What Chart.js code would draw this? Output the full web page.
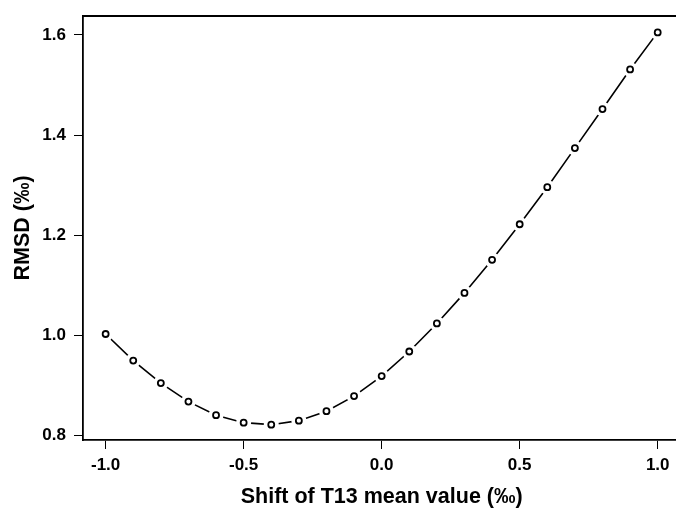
<!DOCTYPE html>
<html>
<head>
<meta charset="utf-8">
<script src="https://cdn.jsdelivr.net/npm/chart.js@4"></script>
<style>
  html, body { margin: 0; padding: 0; background: #fff; overflow: hidden; }
  #wrap { width: 676px; height: 508px; position: relative; }
</style>
</head>
<body>
<div id="wrap"><canvas id="c"></canvas></div>
<script>
const shiftValues = [-1.0, -0.9, -0.8, -0.7, -0.6, -0.5, -0.4, -0.3, -0.2, -0.1, 0.0, 0.1, 0.2, 0.3, 0.4, 0.5, 0.6, 0.7, 0.8, 0.9, 1.0];
const rmsdValues = [1.003, 0.950, 0.905, 0.868, 0.841, 0.826, 0.822, 0.830, 0.849, 0.879, 0.919, 0.968, 1.024, 1.085, 1.151, 1.222, 1.296, 1.374, 1.452, 1.531, 1.605];
const xTickValues = [-1.0, -0.5, 0.0, 0.5, 1.0];
const yTickValues = [0.8, 1.0, 1.2, 1.4, 1.6];
const xTitle = 'Shift of T13 mean value (‰)';
const yTitle = 'RMSD (‰)';

const points = shiftValues.map((x, i) => ({ x: x, y: rmsdValues[i] }));
const FONT = '"Liberation Sans", Arial, sans-serif';

const boxPlugin = {
  id: 'box',
  afterDraw(chart) {
    const { ctx, chartArea } = chart;
    ctx.save();
    ctx.strokeStyle = '#000';
    ctx.lineWidth = 1.8;
    ctx.beginPath();
    ctx.moveTo(chartArea.left, chartArea.top);
    ctx.lineTo(chart.width, chartArea.top);
    ctx.stroke();
    ctx.restore();
  }
};

const xTitlePlugin = {
  id: 'xTitle',
  afterDraw(chart) {
    const { ctx, chartArea } = chart;
    const xs = chart.scales.x;
    const cx = (xs.getPixelForValue(-1.082) + xs.getPixelForValue(1.082)) / 2;
    ctx.save();
    ctx.fillStyle = '#000';
    ctx.font = 'bold 21.5px ' + FONT;
    ctx.textAlign = 'center';
    ctx.textBaseline = 'middle';
    ctx.fillText(xTitle, cx, chartArea.bottom + 57.5);
    ctx.restore();
  }
};

new Chart(document.getElementById('c'), {
  type: 'scatter',
  data: {
    datasets: [
      {
        data: points,
        showLine: true,
        borderColor: '#000',
        borderWidth: 1.6,
        pointRadius: 7.5,
        pointBackgroundColor: '#fff',
        pointBorderWidth: 0,
        pointBorderColor: '#fff',
        order: 1
      },
      {
        data: points,
        showLine: false,
        pointRadius: 3,
        pointBackgroundColor: '#fff',
        pointBorderColor: '#000',
        pointBorderWidth: 1.8,
        order: 0
      }
    ]
  },
  options: {
    responsive: true,
    maintainAspectRatio: false,
    animation: false,
    devicePixelRatio: 1,
    layout: { autoPadding: false, padding: { left: 0, top: 16, right: 0, bottom: 0 } },
    plugins: { legend: { display: false }, tooltip: { enabled: false } },
    scales: {
      x: {
        type: 'linear',
        min: -1.082,
        max: 1.0663,
        afterBuildTicks(scale) { scale.ticks = xTickValues.map(v => ({ value: v })); },
        afterFit(scale) { scale.height = 68; scale.paddingRight = 0; scale.paddingLeft = 0; },
        grid: { display: true, drawOnChartArea: false, drawTicks: true, tickLength: 9, tickColor: '#000', tickWidth: 1 },
        border: { display: true, color: '#000', width: 1.8 },
        ticks: {
          color: '#000',
          padding: 6,
          maxRotation: 0,
          font: { family: FONT, size: 17, weight: 'bold' },
          callback: v => Number(v).toFixed(1)
        },
        title: { display: false }
      },
      y: {
        type: 'linear',
        min: 0.7914,
        max: 1.6377,
        afterBuildTicks(scale) { scale.ticks = yTickValues.map(v => ({ value: v })); },
        afterFit(scale) { scale.width = 83; scale.paddingTop = 0; scale.paddingBottom = 0; },
        grid: { display: true, drawOnChartArea: false, drawTicks: true, tickLength: 9, tickColor: '#000', tickWidth: 1 },
        border: { display: true, color: '#000', width: 1.8 },
        ticks: {
          color: '#000',
          padding: 8,
          font: { family: FONT, size: 17, weight: 'bold' },
          callback: v => Number(v).toFixed(1)
        },
        title: {
          display: true,
          text: yTitle,
          color: '#000',
          font: { family: FONT, size: 21.5, weight: 'bold', lineHeight: 1 },
          padding: { top: 12, bottom: 0 }
        }
      }
    }
  },
  plugins: [boxPlugin, xTitlePlugin]
});
</script>
</body>
</html>
